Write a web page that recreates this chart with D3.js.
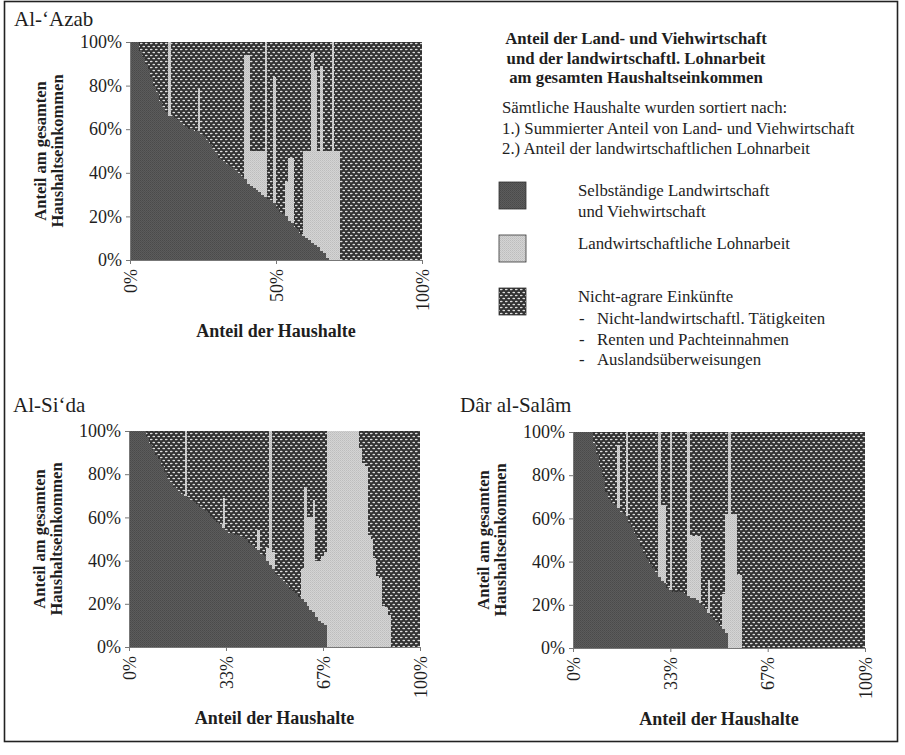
<!DOCTYPE html>
<html>
<head>
<meta charset="utf-8">
<script src="https://cdn.jsdelivr.net/npm/d3@7"></script>
<style>
  body { margin: 0; background: #fff; }
  text { font-family: "Liberation Serif", "Times New Roman", serif; fill: #1e1e1e; }
</style>
</head>
<body>
<div id="d3-container"></div>
<script>
// households are sorted; values are % of total household income
// agri = Selbständige Land- und Viehwirtschaft, wage = landwirtschaftliche Lohnarbeit
// the rest up to 100% is non-agrarian income

const azabAgri = [100,100,100,96,93,90,87,84,80,77,
  73,70,68,66,66,65,64,63,62,61,
  60,60,59,59,58,57,55,53,51,49,
  47,46,45,44,43,42,41,40,38,37,
  35,34,33,32,31,30,29,28,27,26,
  24,22,21,20,18,17,15,14,12,11,
  10,9,8,7,6,4,3,1,0,0,
  0,0,0,0,0,0,0,0,0,0,
  0,0,0,0,0,0,0,0,0,0,
  0,0,0,0,0,0,0,0,0,0];
const azabWage = [0,0,0,0,0,0,0,0,0,0,
  0,0,0,34,0,0,0,0,0,0,
  0,0,0,20,0,0,0,0,0,0,
  0,0,0,0,0,0,0,0,0,57,
  59,16,17,18,19,20,71,0,0,58,
  0,0,0,16,29,30,0,0,0,39,
  40,41,87,80,44,85,47,49,50,100,
  50,50,0,0,0,0,0,0,0,0,
  0,0,0,0,0,0,0,0,0,0,
  0,0,0,0,0,0,0,0,0,0];

const siidaAgri = [100,100,100,100,100,100,97,94,91,89,
  87,84,81,78,76,74,73,72,71,70,
  69,68,67,66,65,64,63,62,60,59,
  58,57,55,54,53,53,52,52,51,51,
  50,48,47,46,45,43,42,40,38,36,
  34,33,32,30,29,27,26,25,23,22,
  21,19,17,16,14,12,11,10,0,0,
  0,0,0,0,0,0,0,0,0,0,
  0,0,0,0,0,0,0,0,0,0,
  0,0,0,0,0,0,0,0,0,0];
const siidaWage = [0,0,0,0,0,0,0,0,0,0,
  0,0,0,0,0,0,0,0,0,30,
  0,0,0,0,0,0,0,0,0,0,
  0,0,14,0,0,0,0,0,0,0,
  0,0,0,0,9,0,0,6,62,8,
  0,0,0,0,0,0,0,0,0,14,
  53,41,43,52,26,28,31,34,100,100,
  100,100,100,100,100,100,100,100,100,92,
  85,84,52,50,41,33,32,19,18,15,
  0,0,0,0,0,0,0,0,0,0];

const darAgri = [100,100,100,100,100,100,100,95,90,84,
  79,72,69,67,66,65,63,62,61,58,
  56,53,50,47,44,41,39,37,35,33,
  31,30,28,27,26,26,26,26,25,24,
  23,23,22,21,20,18,16,15,13,12,
  10,9,7,0,0,0,0,0,0,0,
  0,0,0,0,0,0,0,0,0,0,
  0,0,0,0,0,0,0,0,0,0,
  0,0,0,0,0,0,0,0,0,0,
  0,0,0,0,0,0,0,0,0,0];
const darWage = [0,0,0,0,0,0,0,0,0,0,
  0,0,0,0,0,29,0,0,39,0,
  0,0,0,0,0,0,0,0,0,67,
  35,36,0,73,0,0,0,0,0,76,
  29,29,30,31,0,0,15,0,0,0,
  0,16,55,100,62,62,34,34,0,0,
  0,0,0,0,0,0,0,0,0,0,
  0,0,0,0,0,0,0,0,0,0,
  0,0,0,0,0,0,0,0,0,0,
  0,0,0,0,0,0,0,0,0,0];

const yTicks = [0, 20, 40, 60, 80, 100];
const xTicksHalf = [0, 50, 100];
const xLabelsHalf = ["0%", "50%", "100%"];
const xTicksThird = [0, 33.33, 66.67, 100];
const xLabelsThird = ["0%", "33%", "67%", "100%"];

const legendTitle = ["Anteil der Land- und Viehwirtschaft",
  "und der landwirtschaftl. Lohnarbeit",
  "am gesamten Haushaltseinkommen"];
const legendNote = ["Sämtliche Haushalte wurden sortiert nach:",
  "1.) Summierter Anteil von Land- und Viehwirtschaft",
  "2.) Anteil der landwirtschaftlichen Lohnarbeit"];

let svg = d3.select('#d3-container')
  .append('svg')
  .attr('width', 905)
  .attr('height', 755);

// fill patterns imitating the print raster
const defs = svg.append('defs');

let pAgri = defs.append('pattern').attr('id', 'agri')
  .attr('patternUnits', 'userSpaceOnUse').attr('width', 2).attr('height', 2);
pAgri.append('rect').attr('width', 2).attr('height', 2).attr('fill', '#5c5c5c');
pAgri.append('rect').attr('width', 1).attr('height', 1).attr('fill', '#4a4a4a');
pAgri.append('rect').attr('x', 1).attr('y', 1).attr('width', 1).attr('height', 1).attr('fill', '#505050');

let pWage = defs.append('pattern').attr('id', 'wage')
  .attr('patternUnits', 'userSpaceOnUse').attr('width', 2).attr('height', 2);
pWage.append('rect').attr('width', 2).attr('height', 2).attr('fill', '#d4d4d4');
pWage.append('rect').attr('width', 1).attr('height', 1).attr('fill', '#bdbdbd');
pWage.append('rect').attr('x', 1).attr('y', 1).attr('width', 1).attr('height', 1).attr('fill', '#c6c6c6');

let pOther = defs.append('pattern').attr('id', 'other')
  .attr('patternUnits', 'userSpaceOnUse').attr('width', 5).attr('height', 6);
pOther.append('rect').attr('width', 5).attr('height', 6).attr('fill', '#333');
pOther.append('ellipse').attr('cx', 1.25).attr('cy', 1.5).attr('rx', 1.45).attr('ry', 0.8).attr('fill', '#dcdcdc');
pOther.append('ellipse').attr('cx', 3.75).attr('cy', 4.5).attr('rx', 1.45).attr('ry', 0.8).attr('fill', '#dcdcdc');

const fills = { agri: 'url(#agri)', wage: 'url(#wage)', other: 'url(#other)' };

// outer frame
svg.append('rect')
  .attr('x', 4.5).attr('y', 1.5)
  .attr('width', 893).attr('height', 740)
  .attr('fill', 'none')
  .attr('stroke', '#222')
  .attr('stroke-width', 1.6);

function drawPanel(agri, wage, box, title, titlePos, xTicks, xLabels) {
  const rows = agri.map((a, i) => ({ hh: i, agri: a, wage: wage[i], other: 100 - a - wage[i] }));
  const series = d3.stack().keys(['agri', 'wage', 'other'])(rows);

  const x = d3.scaleBand()
    .domain(rows.map(d => d.hh))
    .range([box.left, box.right])
    .padding(0);
  const xPct = d3.scaleLinear().domain([0, 100]).range([box.left, box.right]);
  const y = d3.scaleLinear().domain([0, 100]).range([box.bottom, box.top]);

  let g = svg.append('g');

  g.selectAll('g.layer')
    .data(series)
    .join('g')
    .attr('class', 'layer')
    .attr('fill', s => fills[s.key])
    .selectAll('rect')
    .data(s => s.filter(d => d[1] > d[0]))
    .join('rect')
    .attr('x', d => x(d.data.hh))
    .attr('y', d => y(d[1]))
    .attr('width', x.bandwidth() + 0.4)
    .attr('height', d => y(d[0]) - y(d[1]))
    .attr('shape-rendering', 'crispEdges');

  // y axis
  let yAxis = g.append('g')
    .attr('transform', `translate(${box.left},0)`)
    .call(d3.axisLeft(y).tickValues(yTicks).tickFormat(d => d + '%').tickSize(4).tickPadding(4));
  yAxis.selectAll('text').style('font-size', '18px').style('font-family', '"Liberation Serif", serif').attr('fill', '#1e1e1e');
  yAxis.selectAll('line, path').attr('stroke', '#777');

  // x axis
  let xAxis = g.append('g')
    .attr('transform', `translate(0,${box.bottom})`)
    .call(d3.axisBottom(xPct).tickValues(xTicks).tickFormat((d, i) => xLabels[i]).tickSize(4));
  xAxis.selectAll('line, path').attr('stroke', '#777');
  xAxis.selectAll('text')
    .style('font-size', '18px')
    .style('font-family', '"Liberation Serif", serif')
    .attr('fill', '#1e1e1e')
    .attr('text-anchor', 'end')
    .attr('transform', 'translate(0,9) rotate(-90)')
    .attr('x', 0)
    .attr('y', 0)
    .attr('dy', '0.35em');

  // axis titles
  const cy = (box.top + box.bottom) / 2;
  g.append('text')
    .attr('transform', `translate(${box.left - 84},${cy}) rotate(-90)`)
    .attr('text-anchor', 'middle')
    .style('font-size', '16.5px')
    .style('font-weight', 'bold')
    .text('Anteil am gesamten');
  g.append('text')
    .attr('transform', `translate(${box.left - 67},${cy}) rotate(-90)`)
    .attr('text-anchor', 'middle')
    .style('font-size', '16.5px')
    .style('font-weight', 'bold')
    .text('Haushaltseinkommen');
  g.append('text')
    .attr('x', (box.left + box.right) / 2)
    .attr('y', box.bottom + 77)
    .attr('text-anchor', 'middle')
    .style('font-size', '18px')
    .style('font-weight', 'bold')
    .text('Anteil der Haushalte');

  // village name
  g.append('text')
    .attr('x', titlePos[0])
    .attr('y', titlePos[1])
    .style('font-size', '21px')
    .text(title);
}

drawPanel(azabAgri, azabWage, { left: 130, right: 422, top: 42, bottom: 260 },
  'Al-‘Azab', [14, 26], xTicksHalf, xLabelsHalf);
drawPanel(siidaAgri, siidaWage, { left: 129, right: 420, top: 431, bottom: 647 },
  'Al-Si‘da', [13, 412], xTicksThird, xLabelsThird);
drawPanel(darAgri, darWage, { left: 573, right: 865, top: 432, bottom: 648 },
  'Dâr al-Salâm', [460, 412], xTicksThird, xLabelsThird);

// legend block
const legendFont = '16.8px';
let legend = svg.append('g');

legend.selectAll('text.ltitle')
  .data(legendTitle)
  .join('text')
  .attr('class', 'ltitle')
  .attr('x', 636)
  .attr('y', (d, i) => 44 + i * 19.5)
  .attr('text-anchor', 'middle')
  .style('font-size', legendFont)
  .style('font-weight', 'bold')
  .text(d => d);

legend.selectAll('text.lnote')
  .data(legendNote)
  .join('text')
  .attr('class', 'lnote')
  .attr('x', 502)
  .attr('y', (d, i) => 113 + i * 20.5)
  .style('font-size', legendFont)
  .text(d => d);

const legendItems = [
  { key: 'agri', y: 182, lines: ['Selbständige Landwirtschaft', 'und Viehwirtschaft'] },
  { key: 'wage', y: 235, lines: ['Landwirtschaftliche Lohnarbeit'] },
  { key: 'other', y: 288, lines: ['Nicht-agrare Einkünfte'] }
];

legendItems.forEach(item => {
  legend.append('rect')
    .attr('x', 499).attr('y', item.y)
    .attr('width', 27).attr('height', 27)
    .attr('fill', fills[item.key])
    .attr('stroke', '#333')
    .attr('stroke-width', 0.8);
  legend.selectAll(null)
    .data(item.lines)
    .join('text')
    .attr('x', 578)
    .attr('y', (d, i) => item.y + 14 + i * 21)
    .style('font-size', legendFont)
    .text(d => d);
});

const subItems = ['Nicht-landwirtschaftl. Tätigkeiten', 'Renten und Pachteinnahmen', 'Auslandsüberweisungen'];
subItems.forEach((s, i) => {
  legend.append('text').attr('x', 579).attr('y', 324 + i * 20.5).style('font-size', legendFont).text('-');
  legend.append('text').attr('x', 597).attr('y', 324 + i * 20.5).style('font-size', legendFont).text(s);
});
</script>
</body>
</html>
